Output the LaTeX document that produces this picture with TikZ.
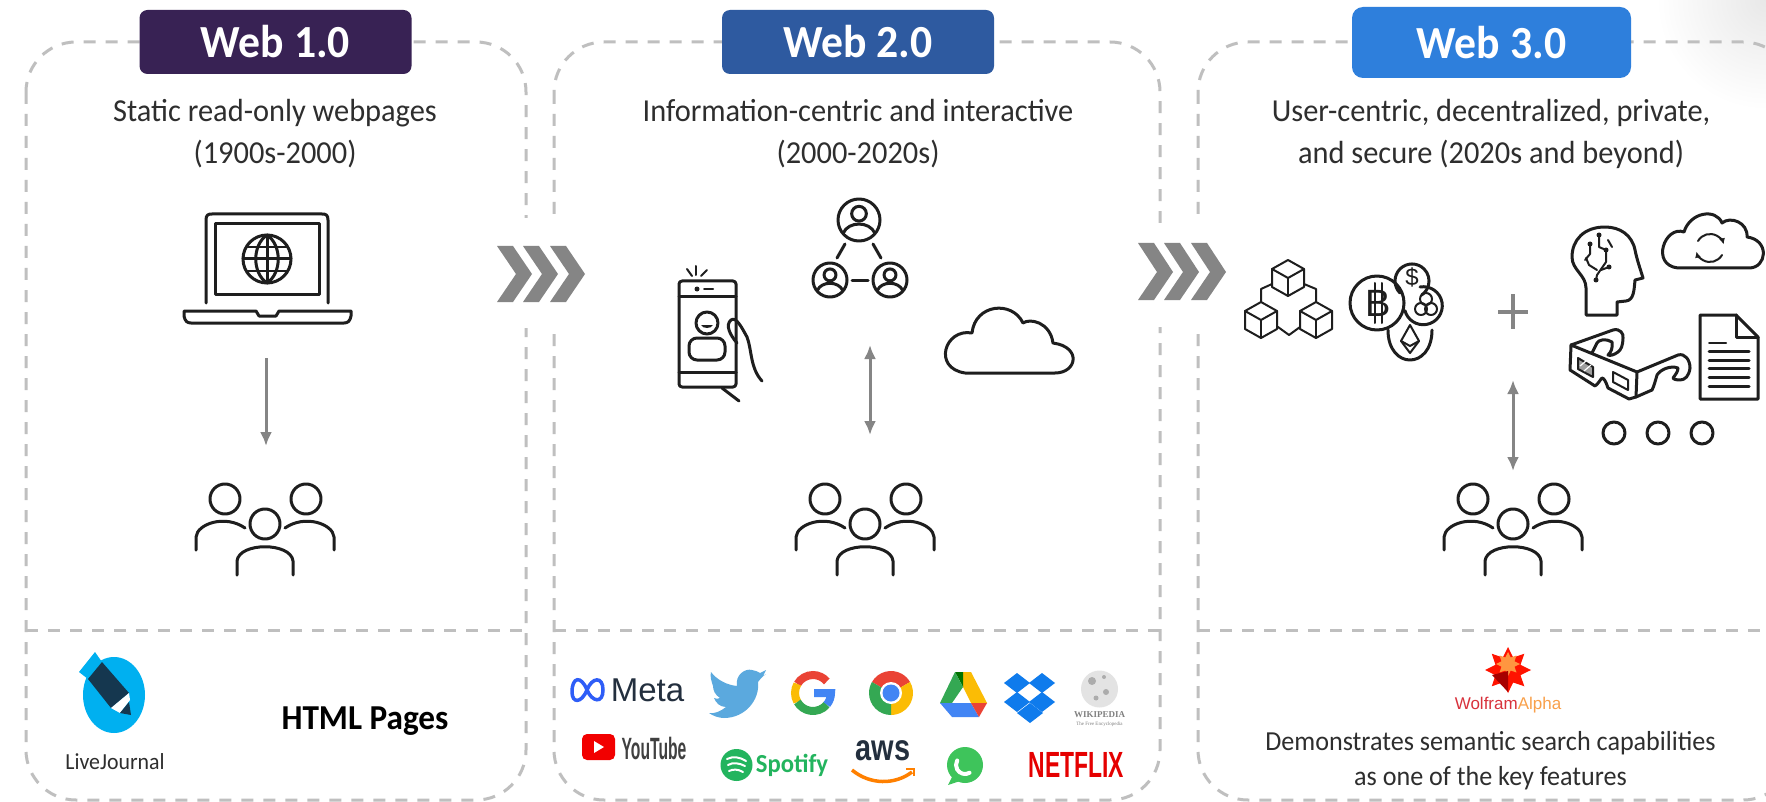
\documentclass[tikz,border=0pt]{standalone}
\usepackage{fontspec}
\usepackage{xcolor}
\setmainfont[FakeStretch=0.95]{Carlito}
\newfontfamily\arialfont{Liberation Sans}
\newfontfamily\timesfont{Liberation Serif}
\usetikzlibrary{arrows.meta,shapes.geometric}

\definecolor{edgegray}{HTML}{BFBFBF}
\definecolor{flowgray}{HTML}{858585}
\definecolor{inkblack}{HTML}{1E1E1E}
\definecolor{bodytext}{HTML}{2E2E2E}
\definecolor{webone}{HTML}{382254}
\definecolor{webtwo}{HTML}{2E5AA0}
\definecolor{webthree}{HTML}{2E7FDC}
\definecolor{ljblue}{HTML}{00B0F0}
\definecolor{ljdark}{HTML}{15374F}
\definecolor{boxblue}{HTML}{0F7BEC}
\definecolor{birdblue}{HTML}{5BA9DE}
\definecolor{gred}{HTML}{EA4335}
\definecolor{gyellow}{HTML}{FBBC05}
\definecolor{ggreen}{HTML}{34A853}
\definecolor{gblue}{HTML}{4285F4}
\definecolor{spotgreen}{HTML}{23B45E}
\definecolor{wagreen}{HTML}{3EC45B}
\definecolor{awsink}{HTML}{232F3E}
\definecolor{wolfred}{HTML}{D8323C}
\definecolor{wolforange}{HTML}{F9A04A}

\tikzset{
	panel/.style={draw=edgegray, line width=3pt, dash pattern=on 12pt off 10pt, rounded corners=50pt},
	divider/.style={draw=edgegray, line width=3pt, dash pattern=on 12pt off 10pt},
	header/.style={rounded corners=8pt, text=white, font=\fontsize{46}{50}\selectfont\bfseries, inner sep=0pt, align=center},
	caption/.style={text=bodytext, font=\fontsize{32}{42}\selectfont, inner sep=0pt, align=center},
	icon/.style={draw=inkblack, line width=3pt, line cap=round, line join=round},
	thinicon/.style={draw=inkblack, line width=2pt, line cap=round, line join=round},
	flow/.style={draw=flowgray, line width=3pt, -{Latex[length=14pt,width=12pt]}},
	flowboth/.style={draw=flowgray, line width=3pt, {Latex[length=14pt,width=12pt]}-{Latex[length=14pt,width=12pt]}},
	chevron/.style={fill=flowgray, draw=none},
	logotext/.style={inner sep=0pt, font=\arialfont},
	crowd/.pic={
		\draw[icon] (-40,-25) circle (15);
		\draw[icon] (41,-25) circle (15);
		\draw[icon] (0,0) circle (15);
		\draw[icon] (-69,26) -- (-69,13) .. controls (-68,0) and (-40,-10) .. (-20,4);
		\draw[icon] (69,26) -- (69,13) .. controls (68,0) and (40,-10) .. (20,4);
		\draw[icon] (-28,51) -- (-28,37) .. controls (-26,18) and (26,18) .. (28,37) -- (28,51);
	},
	member/.pic={
		\draw[icon] (0,0) circle (#1);
		\draw[icon] (0,-0.3*#1) circle (0.35*#1);
		\draw[icon] (-0.75*#1,0.62*#1) .. controls (-0.5*#1,0.05*#1) and (0.5*#1,0.05*#1) .. (0.75*#1,0.62*#1);
	},
	cube/.pic={
		\draw[thinicon] (0,-18) -- (16,-9) -- (16,9) -- (0,18) -- (-16,9) -- (-16,-9) -- cycle;
		\draw[thinicon] (-16,-9) -- (0,0) -- (16,-9);
		\draw[thinicon] (0,0) -- (0,18);
	},
	rhomb/.pic={
		\fill[boxblue] (-13,0) -- (0,-10) -- (13,0) -- (0,10) -- cycle;
	},
}

\begin{document}
\begin{tikzpicture}[x=1pt,y=-1pt]
	\useasboundingbox (0,0) rectangle (1766,802);
	\clip (0,0) rectangle (1766,802);
	\fill[white] (0,0) rectangle (1766,802);
	\shade[inner color=gray!18, outer color=white] (1766,0) circle (110);

	% panels
	\draw[panel] (26,42) rectangle (526,800);
	\draw[panel] (554,42) rectangle (1160,800);
	\draw[panel] (1198,42) rectangle (1793,800);
	\draw[divider] (26,630) -- (526,630);
	\draw[divider] (554,630) -- (1160,630);
	\draw[divider] (1198,630) -- (1766,630);

	% headers
	\node (head1) [header, fill=webone, minimum width=272pt, minimum height=64pt] at (275.5,42) {Web 1.0};
	\node (head2) [header, fill=webtwo, minimum width=272pt, minimum height=64pt] at (858,42) {Web 2.0};
	\node (head3) [header, fill=webthree, rounded corners=11pt, minimum width=279pt, minimum height=71pt] at (1491.5,42.5) {Web 3.0};

	% captions
	\node (cap1) [caption] at (275,134) {Static read-only webpages\\(1900s-2000)};
	\node (cap2) [caption] at (858,134) {Information-centric and interactive\\(2000-2020s)};
	\node (cap3) [caption] at (1491,134) {User-centric, decentralized, private,\\and secure (2020s and beyond)};

	% chevrons
	\fill[white] (500,218) rectangle (580,328);
	\fill[chevron] (497,246) -- (513,246) -- (532,274) -- (513,302) -- (497,302) -- (516,274) -- cycle;
	\fill[chevron] (523,246) -- (539,246) -- (558,274) -- (539,302) -- (523,302) -- (542,274) -- cycle;
	\fill[chevron] (550,246) -- (566,246) -- (585,274) -- (566,302) -- (550,302) -- (569,274) -- cycle;
	\fill[white] (1140,223) rectangle (1220,327);
	\fill[chevron] (1138,243) -- (1154,243) -- (1173,272) -- (1154,300) -- (1138,300) -- (1157,272) -- cycle;
	\fill[chevron] (1164,243) -- (1180,243) -- (1199,272) -- (1180,300) -- (1164,300) -- (1183,272) -- cycle;
	\fill[chevron] (1191,243) -- (1207,243) -- (1226,272) -- (1207,300) -- (1191,300) -- (1210,272) -- cycle;

	% laptop
	\draw[icon] (206,303) -- (206,220) .. controls (206,215) and (208,214) .. (212,214) -- (322,214) .. controls (326,214) and (328,215) .. (328,220) -- (328,303);
	\draw[icon] (215,224) rectangle (319,294);
	\draw[icon] (267,259) circle (24);
	\draw[icon] (267,235) .. controls (252,245) and (252,273) .. (267,283) .. controls (282,273) and (282,245) .. (267,235);
	\draw[icon] (267,235) -- (267,283);
	\draw[icon] (243,259) -- (291,259);
	\draw[thinicon] (247,247) -- (287,247);
	\draw[thinicon] (247,271) -- (287,271);
	\draw[icon] (184,311) -- (256,311) -- (259,316) -- (276,316) -- (279,311) -- (351,311) -- (351,316) .. controls (350,321) and (348,323) .. (344,323) -- (191,323) .. controls (187,323) and (185,321) .. (184,316) -- cycle;

	% people
	\pic (crowd1) at (265,524) {crowd};
	\pic (crowd2) at (865,524) {crowd};
	\pic (crowd3) at (1513,524) {crowd};

	% arrows
	\coordinate (laptopfoot) at (266,358);
	\coordinate (crowdtop1) at (266,446);
	\coordinate (webtop) at (870,345);
	\coordinate (crowdtop2) at (870,435);
	\coordinate (plusfoot) at (1513,380);
	\coordinate (crowdtop3) at (1513,471);
	\draw[flow] (laptopfoot) -- (crowdtop1);
	\draw[flowboth] (webtop) -- (crowdtop2);
	\draw[flowboth] (plusfoot) -- (crowdtop3);

	% phone
	\draw[icon, rounded corners=3pt] (679,281) rectangle (736,387);
	\draw[icon] (679,296) -- (736,296);
	\draw[icon] (679,372) -- (736,372);
	\fill[inkblack] (697,289) circle (2.5);
	\draw[thinicon] (704,289) -- (713,289);
	\draw[thinicon] (696,266) -- (696,275);
	\draw[thinicon] (687,269) -- (692,276);
	\draw[thinicon] (707,270) -- (701,276);
	\draw[icon] (707,323) circle (11);
	\draw[icon, rounded corners=8pt] (689,360) -- (689,338) -- (725,338) -- (725,360) -- cycle;
	\fill[inkblack] (701,325) .. controls (703,329) and (711,329) .. (713,325) -- cycle;
	\draw[icon] (737,343) .. controls (730,335) and (725,325) .. (731,320) .. controls (736,316) and (742,328) .. (747,337) .. controls (752,350) and (750,368) .. (762,381);
	\draw[icon] (722,388) -- (739,401);

	% network of users
	\pic (user1) at (859,220) {member=21};
	\pic (user2) at (830,280) {member=17};
	\pic (user3) at (890,280) {member=17};
	\draw[icon] (845,244) -- (837,258);
	\draw[icon] (873,244) -- (881,258);
	\draw[icon] (852,281) -- (868,281);

	% web 2.0 cloud
	\draw[icon] (965,373) -- (1055,373) .. controls (1077,373) and (1082,347) .. (1053,343) .. controls (1050,322) and (1030,318) .. (1023,323) .. controls (1012,300) and (975,304) .. (972,333) .. controls (945,328) and (932,368) .. (965,373) -- cycle;

	% blocks
	\pic (block1) at (1288,278) {cube};
	\pic (block2) at (1261,320) {cube};
	\pic (block3) at (1316,320) {cube};
	\draw[thinicon] (1272,284) -- (1261,289) -- (1261,302);
	\draw[thinicon] (1304,284) -- (1316,289) -- (1316,302);
	\draw[thinicon] (1278,327) -- (1289,335) -- (1300,327);

	% coins
	\draw[icon] (1377,303) circle (27);
	\node (btc) [inner sep=0pt, text=inkblack, font=\arialfont\fontsize{38}{38}\selectfont] at (1378,303) {B};
	\draw[thinicon] (1375,283) -- (1375,323);
	\draw[thinicon] (1382,283) -- (1382,323);
	\draw[icon] (1400,293) arc[start angle=135,end angle=415,radius=17];
	\node (usd) [inner sep=0pt, text=inkblack, font=\arialfont\fontsize{24}{24}\selectfont] at (1412,277) {\$};
	\draw[icon] (1420,287) arc[start angle=-100,end angle=165,radius=19];
	\draw[thinicon] (1426,299) circle (6);
	\draw[thinicon] (1421,309) circle (6);
	\draw[thinicon] (1431,309) circle (6);
	\draw[icon] (1388,330) .. controls (1388,370) and (1432,370) .. (1432,330);
	\draw[thinicon] (1410,325) -- (1401,341) -- (1410,353) -- (1419,341) -- cycle;
	\draw[thinicon] (1401,341) -- (1410,346) -- (1419,341);

	% plus
	\node (plus) [inner sep=0pt] at (1513,312) {};
	\draw[draw=flowgray, line width=4.5pt] (1498,312) -- (1528,312);
	\draw[draw=flowgray, line width=4.5pt] (1513,294) -- (1513,329);

	% ai head
	\draw[icon] (1586,315) -- (1617,315) -- (1617,302) -- (1626,301) .. controls (1634,300) and (1634,290) .. (1635,280) -- (1643,278) .. controls (1640,268) and (1637,260) .. (1635,250) .. controls (1632,235) and (1620,227) .. (1605,227) .. controls (1584,227) and (1572,240) .. (1572,257) .. controls (1572,270) and (1586,275) .. (1586,288) -- cycle;
	\draw[thinicon] (1590,244) -- (1590,254) -- (1585,260);
	\draw[thinicon] (1599,235) -- (1599,247) -- (1606,250) -- (1606,262) -- (1597,275) -- (1596,280);
	\draw[thinicon] (1597,270) -- (1589,265) -- (1586,258);
	\draw[thinicon] (1608,240) -- (1612,247);
	\fill[inkblack] (1590,244) circle (2.5);
	\fill[inkblack] (1599,235) circle (2.5);
	\fill[inkblack] (1606,250) circle (2.5);
	\fill[inkblack] (1596,280) circle (2.5);
	\fill[inkblack] (1609,267) circle (2.5);
	\draw[thinicon] (1609,267) -- (1601,270);

	% sync cloud
	\draw[icon] (1678,268) -- (1749,268) .. controls (1767,268) and (1770,240) .. (1747,237) .. controls (1748,222) and (1730,216) .. (1722,223) .. controls (1716,208) and (1690,212) .. (1684,232) .. controls (1665,225) and (1650,265) .. (1678,268) -- cycle;
	\draw[thinicon, -{Latex[length=6pt,width=6pt]}] (1698,241) arc[start angle=-150,end angle=-15,radius=14];
	\draw[thinicon, -{Latex[length=6pt,width=6pt]}] (1722,255) arc[start angle=30,end angle=165,radius=14];

	% 3d glasses
	\draw[icon] (1571,345) -- (1637,372) -- (1636,397) -- (1629,399) -- (1608,388) .. controls (1606,382) and (1604,378) .. (1602,378) .. controls (1600,380) and (1598,384) .. (1595,386) -- (1570,370) -- cycle;
	\fill[gray!75] (1578,358) -- (1593,367) -- (1593,377) -- (1578,369) -- cycle;
	\draw[thinicon] (1578,358) -- (1593,367) -- (1593,377) -- (1578,369) -- cycle;
	\draw[draw=white, line width=1.2pt] (1580,366) -- (1586,361);
	\draw[draw=white, line width=1.2pt] (1584,371) -- (1591,365);
	\draw[thinicon] (1613,372) -- (1628,380) -- (1628,390) -- (1613,382) -- cycle;
	\draw[icon] (1637,372) -- (1678,355) .. controls (1685,353) and (1690,360) .. (1690,368) .. controls (1689,376) and (1685,380) .. (1680,380) .. controls (1676,380) and (1673,379) .. (1673,378) .. controls (1675,375) and (1678,372) .. (1678,368) .. controls (1670,365) and (1660,370) .. (1657,375) .. controls (1655,382) and (1654,386) .. (1652,390) -- (1636,397);
	\draw[icon] (1571,345) -- (1613,330) .. controls (1620,328) and (1624,334) .. (1623,338) .. controls (1623,345) and (1621,350) .. (1618,352) .. controls (1614,355) and (1610,356) .. (1608,355) .. controls (1611,352) and (1613,348) .. (1612,342) .. controls (1606,338) and (1598,340) .. (1597,343) -- (1592,353);

	% document
	\draw[icon] (1700,315) -- (1736,315) -- (1758,337) -- (1758,399) -- (1700,399) -- cycle;
	\draw[icon] (1736,315) -- (1736,337) -- (1758,337);
	\draw[thinicon] (1709,343) -- (1726,343);
	\draw[icon] (1709,351) -- (1749,351);
	\draw[icon] (1709,360) -- (1749,360);
	\draw[icon] (1709,368) -- (1749,368);
	\draw[icon] (1709,377) -- (1749,377);
	\draw[icon] (1709,386) -- (1749,386);

	% dots
	\draw[icon] (1614,433) circle (11);
	\draw[icon] (1658,433) circle (11);
	\draw[icon] (1702,433) circle (11);

	% livejournal
	\fill[ljblue] (114,695) ellipse (31 and 38);
	\fill[ljblue] (95,652) -- (79,672) -- (88,679) -- (102,662) -- cycle;
	\fill[ljdark] (102,662) -- (88,679) -- (111,708) -- (129,693) -- cycle;
	\fill[white] (111,708) -- (129,693) -- (130,700) -- (120,713) -- cycle;
	\fill[ljdark] (120,713) -- (129,702) -- (131,715) -- cycle;
	\node (ljname) [inner sep=0pt, text=bodytext, font=\fontsize{23}{23}\selectfont] at (115,762) {LiveJournal};
	\node (htmlpages) [inner sep=0pt, text=black, font=\fontsize{35}{35}\selectfont\bfseries] at (365,721) {HTML Pages};

	% meta
	\draw[draw=gblue!70!blue, line width=3.5pt] (572,692) .. controls (572,677) and (581,675) .. (587,690) .. controls (592,702) and (603,704) .. (603,690) .. controls (603,676) and (592,677) .. (587,690) .. controls (581,704) and (572,703) .. (572,692);
	\node (metaname) [logotext, text=awsink, font=\arialfont\fontsize{33}{33}\selectfont] at (647.5,690) {Meta};

	% twitter
	\fill[birdblue] (766,674) .. controls (762,677) and (760,679) .. (758,682) .. controls (760,700) and (745,718) .. (724,718) .. controls (719,718) and (713,716) .. (709,713) .. controls (715,714) and (721,711) .. (726,707) .. controls (720,707) and (716,703) .. (714,698) .. controls (716,699) and (718,699) .. (720,698) .. controls (715,695) and (713,690) .. (713,686) .. controls (711,680) and (710,676) .. (711,672) .. controls (717,680) and (727,685) .. (737,686) .. controls (735,675) and (745,668) .. (752,670) .. controls (755,670) and (758,672) .. (760,673) -- (766,670) -- (763,676) -- cycle;

	% google
	\draw[draw=gred, line width=8pt] (813,693) ++(-150:18) arc[start angle=-150,end angle=-40,radius=18];
	\draw[draw=gyellow, line width=8pt] (813,693) ++(150:18) arc[start angle=150,end angle=210,radius=18];
	\draw[draw=ggreen, line width=8pt] (813,693) ++(40:18) arc[start angle=40,end angle=150,radius=18];
	\draw[draw=gblue, line width=8pt] (813,693) ++(40:18) arc[start angle=40,end angle=0,radius=18] -- (814,693);

	% chrome
	\fill[gred] (891,693) -- ++(-150:22) arc[start angle=-150,end angle=-30,radius=22] -- cycle;
	\fill[gyellow] (891,693) -- ++(-30:22) arc[start angle=-30,end angle=90,radius=22] -- cycle;
	\fill[ggreen] (891,693) -- ++(90:22) arc[start angle=90,end angle=210,radius=22] -- cycle;
	\fill[white] (891,693) circle (11);
	\fill[gblue] (891,693) circle (8.5);

	% drive
	\fill[gyellow] (963,672) -- (971,672) -- (987,703) -- (971,703) -- (963,687) -- cycle;
	\fill[green!45!black] (955,672) -- (963,672) -- (963,687) -- cycle;
	\fill[ggreen] (955,672) -- (963,687) -- (952,703) -- (940,703) -- cycle;
	\fill[gblue] (940,703) -- (971,703) -- (979,717) -- (952,717) -- cycle;
	\fill[gred] (971,703) -- (987,703) -- (979,717) -- cycle;

	% dropbox
	\pic (box1) at (1017,683) {rhomb};
	\pic (box2) at (1042,683) {rhomb};
	\pic (box3) at (1017,702) {rhomb};
	\pic (box4) at (1042,702) {rhomb};
	\pic (box5) at (1030,713) {rhomb};

	% wikipedia
	\fill[gray!22] (1099.5,689) circle (18.5);
	\fill[gray!65] (1092,681) circle (4);
	\fill[gray!65] (1106,692) circle (3);
	\fill[gray!65] (1096,698) circle (2.5);
	\fill[gray!65] (1104,677) circle (2);
	\node (wikiname) [inner sep=0pt, text=gray, font=\timesfont\fontsize{9}{9}\selectfont\bfseries] at (1099.5,715) {WIKIPEDIA};
	\node (wikitag) [inner sep=0pt, text=gray, font=\timesfont\fontsize{5}{5}\selectfont] at (1099.5,724) {The Free Encyclopedia};

	% youtube
	\fill[red!95!black, rounded corners=5pt] (582,734) rectangle (615,760);
	\fill[white] (594,741) -- (604,747) -- (594,753) -- cycle;
	\node (ytname) [logotext, text=black!75, font=\arialfont\fontsize{28}{28}\selectfont\bfseries] at (654,748) {\scalebox{.56}[1.1]{YouTube}};

	% spotify
	\fill[spotgreen] (736.5,765) circle (16);
	\draw[draw=white, line width=2pt, line cap=round] (727,759) .. controls (733,756) and (740,757) .. (746,761);
	\draw[draw=white, line width=2pt, line cap=round] (728,765) .. controls (733,762) and (739,763) .. (745,766);
	\draw[draw=white, line width=2pt, line cap=round] (729,771) .. controls (733,769) and (738,769) .. (743,772);
	\node (spotname) [logotext, text=spotgreen, font=\fontsize{26}{26}\selectfont\bfseries] at (792,765) {Spotify};

	% aws
	\node (awsname) [logotext, text=awsink, font=\arialfont\fontsize{37}{37}\selectfont\bfseries] at (883,751) {\scalebox{.78}[1]{aws}};
	\draw[draw=orange, line width=3.5pt] (852,770) .. controls (870,785) and (895,785) .. (912,772);
	\draw[draw=orange, line width=2pt] (906,769) -- (914,769) -- (914,776);

	% whatsapp
	\fill[wagreen] (965,765) circle (18);
	\fill[wagreen] (953,775) -- (948,785) -- (960,781) -- cycle;
	\draw[draw=white, line width=4pt, line cap=round] (965,765) ++(60:9) arc[start angle=60,end angle=210,radius=9];

	% netflix
	\node (netname) [logotext, text=red!90!black, font=\arialfont\fontsize{26}{26}\selectfont\bfseries] at (1076.5,765) {\scalebox{.88}[1.4]{NETFLIX}};

	% wolfram
	\node (star1) [star, star points=8, star point ratio=1.7, fill=red!85!orange, inner sep=0pt, minimum size=46pt] at (1508,670) {};
	\node (star2) [star, star points=8, star point ratio=1.7, fill=red!55!yellow!75!white, inner sep=0pt, minimum size=24pt] at (1508,664) {};
	\fill[red!65!black] (1492,675) -- (1508,671) -- (1508,692) -- cycle;
	\node (wolfname) [inner sep=0pt, font=\arialfont\fontsize{17}{17}\selectfont] at (1508,705) {\textcolor{wolfred}{Wolfram}\textcolor{wolforange}{Alpha}};
	\node (wolfnote) [caption, font=\fontsize{27.5}{35}\selectfont] at (1490.5,761) {Demonstrates semantic search capabilities\\as one of the key features};
\end{tikzpicture}
\end{document}
